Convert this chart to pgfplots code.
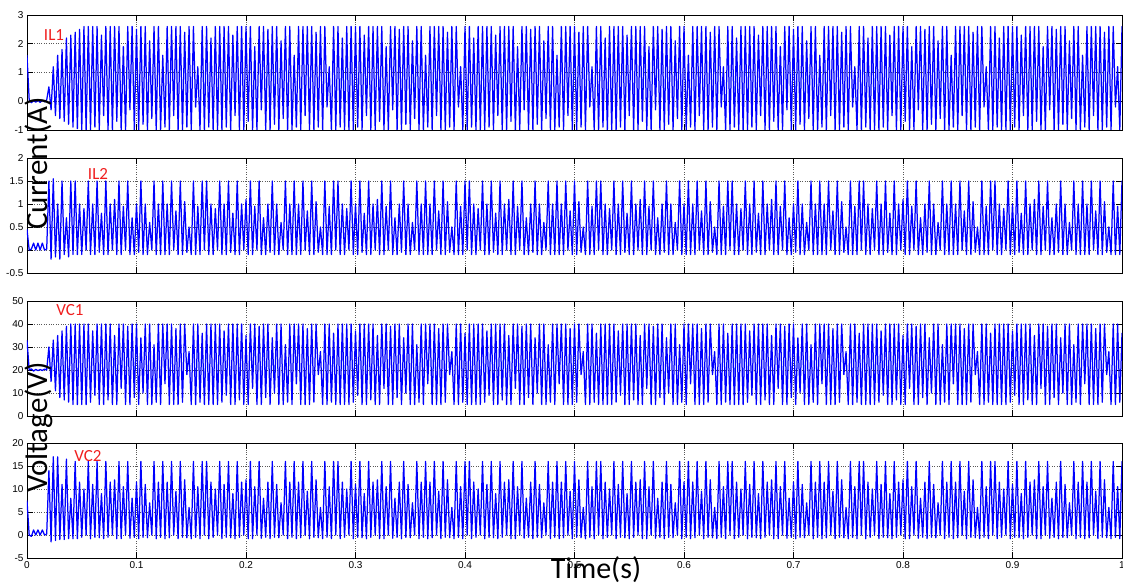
\documentclass[border=0pt]{standalone}
\usepackage{fontspec}
\setmainfont{Liberation Sans}
\newfontfamily\calibri{Carlito}
\usepackage{pgfplots}
\usepackage{pgfplotstable}
\pgfplotsset{compat=1.18}
\definecolor{mblue}{RGB}{0,0,255}
\definecolor{mred}{RGB}{240,30,30}

% IL1 samples (uniform sampling, dt = 0.002 s)
\pgfplotstableread[row sep=\\, header=false]{
1.6\\ 0.05\\ -0.05\\ 0.02\\ -0.03\\ 0.04\\ -0.04\\ 0.03\\ -0.02\\ 0.05\\
0.5\\ -0.3\\ 1.2\\ -0.5\\ 1.6\\ -0.6\\ 1.8\\ -0.7\\ 2.2\\ -0.8\\ 2.3\\ -0.9\\ 2.4\\ -0.95\\ 2.5\\ -1\\ 2.6\\ -1\\
2.6\\ -1\\ 2.6\\ -0.9\\ 2.6\\ -1\\ 2.3\\ -0.5\\ 2.6\\ -1\\ 2.6\\ -1\\ 2.6\\ -0.7\\ 2.6\\ -1\\ 1.9\\ -1\\ 2.6\\ -0.3\\
2.6\\ -1\\ 2.5\\ -1\\ 2.6\\ -0.8\\ 2.6\\ -1\\ 2.1\\ -0.6\\ 2.6\\ -1\\ 2.6\\ -1\\ 1.6\\ -0.9\\ 2.6\\ -1\\ 2.6\\ -0.5\\
2.6\\ -1\\ 2.6\\ -1\\ 2.4\\ -0.9\\ 2.6\\ -1\\ 2.6\\ -0.2\\ 1.2\\ -1\\ 2.6\\ -1\\ 2.6\\ -0.9\\ 2.2\\ -1\\ 2.6\\ -1\\
2.6\\ -1\\ 2.6\\ -0.9\\ 2.6\\ -1\\ 2.3\\ -0.5\\ 2.6\\ -1\\ 2.6\\ -1\\ 2.6\\ -0.7\\ 2.6\\ -1\\ 1.9\\ -1\\ 2.6\\ -0.3\\
2.6\\ -1\\ 2.5\\ -1\\ 2.6\\ -0.8\\ 2.6\\ -1\\ 2.1\\ -0.6\\ 2.6\\ -1\\ 2.6\\ -1\\ 1.6\\ -0.9\\ 2.6\\ -1\\ 2.6\\ -0.5\\
2.6\\ -1\\ 2.6\\ -1\\ 2.4\\ -0.9\\ 2.6\\ -1\\ 2.6\\ -0.2\\ 1.2\\ -1\\ 2.6\\ -1\\ 2.6\\ -0.9\\ 2.2\\ -1\\ 2.6\\ -1\\
2.6\\ -1\\ 2.6\\ -0.9\\ 2.6\\ -1\\ 2.3\\ -0.5\\ 2.6\\ -1\\ 2.6\\ -1\\ 2.6\\ -0.7\\ 2.6\\ -1\\ 1.9\\ -1\\ 2.6\\ -0.3\\
2.6\\ -1\\ 2.5\\ -1\\ 2.6\\ -0.8\\ 2.6\\ -1\\ 2.1\\ -0.6\\ 2.6\\ -1\\ 2.6\\ -1\\ 1.6\\ -0.9\\ 2.6\\ -1\\ 2.6\\ -0.5\\
2.6\\ -1\\ 2.6\\ -1\\ 2.4\\ -0.9\\ 2.6\\ -1\\ 2.6\\ -0.2\\ 1.2\\ -1\\ 2.6\\ -1\\ 2.6\\ -0.9\\ 2.2\\ -1\\ 2.6\\ -1\\
2.6\\ -1\\ 2.6\\ -0.9\\ 2.6\\ -1\\ 2.3\\ -0.5\\ 2.6\\ -1\\ 2.6\\ -1\\ 2.6\\ -0.7\\ 2.6\\ -1\\ 1.9\\ -1\\ 2.6\\ -0.3\\
2.6\\ -1\\ 2.5\\ -1\\ 2.6\\ -0.8\\ 2.6\\ -1\\ 2.1\\ -0.6\\ 2.6\\ -1\\ 2.6\\ -1\\ 1.6\\ -0.9\\ 2.6\\ -1\\ 2.6\\ -0.5\\
2.6\\ -1\\ 2.6\\ -1\\ 2.4\\ -0.9\\ 2.6\\ -1\\ 2.6\\ -0.2\\ 1.2\\ -1\\ 2.6\\ -1\\ 2.6\\ -0.9\\ 2.2\\ -1\\ 2.6\\ -1\\
2.6\\ -1\\ 2.6\\ -0.9\\ 2.6\\ -1\\ 2.3\\ -0.5\\ 2.6\\ -1\\ 2.6\\ -1\\ 2.6\\ -0.7\\ 2.6\\ -1\\ 1.9\\ -1\\ 2.6\\ -0.3\\
2.6\\ -1\\ 2.5\\ -1\\ 2.6\\ -0.8\\ 2.6\\ -1\\ 2.1\\ -0.6\\ 2.6\\ -1\\ 2.6\\ -1\\ 1.6\\ -0.9\\ 2.6\\ -1\\ 2.6\\ -0.5\\
2.6\\ -1\\ 2.6\\ -1\\ 2.4\\ -0.9\\ 2.6\\ -1\\ 2.6\\ -0.2\\ 1.2\\ -1\\ 2.6\\ -1\\ 2.6\\ -0.9\\ 2.2\\ -1\\ 2.6\\ -1\\
2.6\\ -1\\ 2.6\\ -0.9\\ 2.6\\ -1\\ 2.3\\ -0.5\\ 2.6\\ -1\\ 2.6\\ -1\\ 2.6\\ -0.7\\ 2.6\\ -1\\ 1.9\\ -1\\ 2.6\\ -0.3\\
2.6\\ -1\\ 2.5\\ -1\\ 2.6\\ -0.8\\ 2.6\\ -1\\ 2.1\\ -0.6\\ 2.6\\ -1\\ 2.6\\ -1\\ 1.6\\ -0.9\\ 2.6\\ -1\\ 2.6\\ -0.5\\
2.6\\ -1\\ 2.6\\ -1\\ 2.4\\ -0.9\\ 2.6\\ -1\\ 2.6\\ -0.2\\ 1.2\\ -1\\ 2.6\\ -1\\ 2.6\\ -0.9\\ 2.2\\ -1\\ 2.6\\ -1\\
2.6\\ -1\\ 2.6\\ -0.9\\ 2.6\\ -1\\ 2.3\\ -0.5\\ 2.6\\ -1\\ 2.6\\ -1\\ 2.6\\ -0.7\\ 2.6\\ -1\\ 1.9\\ -1\\ 2.6\\ -0.3\\
2.6\\ -1\\ 2.5\\ -1\\ 2.6\\ -0.8\\ 2.6\\ -1\\ 2.1\\ -0.6\\ 2.6\\ -1\\ 2.6\\ -1\\ 1.6\\ -0.9\\ 2.6\\ -1\\ 2.6\\ -0.5\\
2.6\\ -1\\ 2.6\\ -1\\ 2.4\\ -0.9\\ 2.6\\ -1\\ 2.6\\ -0.2\\ 1.2\\ -1\\ 2.6\\ -1\\ 2.6\\ -0.9\\ 2.2\\ -1\\ 2.6\\ -1\\
2.6\\ -1\\ 2.6\\ -0.9\\ 2.6\\ -1\\ 2.3\\ -0.5\\ 2.6\\ -1\\ 2.6\\ -1\\ 2.6\\ -0.7\\ 2.6\\ -1\\ 1.9\\ -1\\ 2.6\\ -0.3\\
2.6\\ -1\\ 2.5\\ -1\\ 2.6\\ -0.8\\ 2.6\\ -1\\ 2.1\\ -0.6\\ 2.6\\ -1\\ 2.6\\ -1\\ 1.6\\ -0.9\\ 2.6\\ -1\\ 2.6\\ -0.5\\
2.6\\ -1\\ 2.6\\ -1\\ 2.4\\ -0.9\\ 2.6\\ -1\\ 2.6\\ -0.2\\ 1.2\\ -1\\ 2.6\\ -1\\ 2.6\\ -0.9\\ 2.2\\ -1\\ 2.6\\ -1\\
}\ILone

% IL2 samples
\pgfplotstableread[row sep=\\, header=false]{
0.45\\ 0\\ 0.02\\ 0.15\\ 0\\ 0.15\\ 0\\ 0.15\\ 0\\ 0.02\\
1.5\\ -0.2\\ 1.55\\ -0.15\\ 1.0\\ -0.2\\ 1.5\\ -0.1\\ 0.7\\ -0.15\\ 1.5\\ -0.1\\
1.5\\ -0.1\\ 1.0\\ -0.1\\ 0.9\\ 0\\ 1.5\\ -0.1\\ 1.0\\ -0.1\\ 1.5\\ -0.05\\ 0.8\\ -0.1\\ 1.5\\ -0.1\\ 1.0\\ 0\\ 1.1\\ -0.1\\
1.5\\ -0.1\\ 0.95\\ 0\\ 1.5\\ -0.1\\ 0.7\\ -0.1\\ 1.0\\ -0.05\\ 1.5\\ -0.1\\ 1.0\\ -0.1\\ 0.6\\ 0\\ 1.5\\ -0.1\\ 1.0\\ -0.1\\
1.5\\ -0.1\\ 1.0\\ -0.1\\ 1.5\\ 0\\ 0.85\\ -0.1\\ 1.5\\ -0.1\\ 1.05\\ -0.05\\ 0.5\\ -0.1\\ 1.5\\ -0.1\\ 0.95\\ -0.1\\ 1.5\\ 0\\
1.5\\ -0.1\\ 1.0\\ -0.1\\ 0.9\\ 0\\ 1.5\\ -0.1\\ 1.0\\ -0.1\\ 1.5\\ -0.05\\ 0.8\\ -0.1\\ 1.5\\ -0.1\\ 1.0\\ 0\\ 1.1\\ -0.1\\
1.5\\ -0.1\\ 0.95\\ 0\\ 1.5\\ -0.1\\ 0.7\\ -0.1\\ 1.0\\ -0.05\\ 1.5\\ -0.1\\ 1.0\\ -0.1\\ 0.6\\ 0\\ 1.5\\ -0.1\\ 1.0\\ -0.1\\
1.5\\ -0.1\\ 1.0\\ -0.1\\ 1.5\\ 0\\ 0.85\\ -0.1\\ 1.5\\ -0.1\\ 1.05\\ -0.05\\ 0.5\\ -0.1\\ 1.5\\ -0.1\\ 0.95\\ -0.1\\ 1.5\\ 0\\
1.5\\ -0.1\\ 1.0\\ -0.1\\ 0.9\\ 0\\ 1.5\\ -0.1\\ 1.0\\ -0.1\\ 1.5\\ -0.05\\ 0.8\\ -0.1\\ 1.5\\ -0.1\\ 1.0\\ 0\\ 1.1\\ -0.1\\
1.5\\ -0.1\\ 0.95\\ 0\\ 1.5\\ -0.1\\ 0.7\\ -0.1\\ 1.0\\ -0.05\\ 1.5\\ -0.1\\ 1.0\\ -0.1\\ 0.6\\ 0\\ 1.5\\ -0.1\\ 1.0\\ -0.1\\
1.5\\ -0.1\\ 1.0\\ -0.1\\ 1.5\\ 0\\ 0.85\\ -0.1\\ 1.5\\ -0.1\\ 1.05\\ -0.05\\ 0.5\\ -0.1\\ 1.5\\ -0.1\\ 0.95\\ -0.1\\ 1.5\\ 0\\
1.5\\ -0.1\\ 1.0\\ -0.1\\ 0.9\\ 0\\ 1.5\\ -0.1\\ 1.0\\ -0.1\\ 1.5\\ -0.05\\ 0.8\\ -0.1\\ 1.5\\ -0.1\\ 1.0\\ 0\\ 1.1\\ -0.1\\
1.5\\ -0.1\\ 0.95\\ 0\\ 1.5\\ -0.1\\ 0.7\\ -0.1\\ 1.0\\ -0.05\\ 1.5\\ -0.1\\ 1.0\\ -0.1\\ 0.6\\ 0\\ 1.5\\ -0.1\\ 1.0\\ -0.1\\
1.5\\ -0.1\\ 1.0\\ -0.1\\ 1.5\\ 0\\ 0.85\\ -0.1\\ 1.5\\ -0.1\\ 1.05\\ -0.05\\ 0.5\\ -0.1\\ 1.5\\ -0.1\\ 0.95\\ -0.1\\ 1.5\\ 0\\
1.5\\ -0.1\\ 1.0\\ -0.1\\ 0.9\\ 0\\ 1.5\\ -0.1\\ 1.0\\ -0.1\\ 1.5\\ -0.05\\ 0.8\\ -0.1\\ 1.5\\ -0.1\\ 1.0\\ 0\\ 1.1\\ -0.1\\
1.5\\ -0.1\\ 0.95\\ 0\\ 1.5\\ -0.1\\ 0.7\\ -0.1\\ 1.0\\ -0.05\\ 1.5\\ -0.1\\ 1.0\\ -0.1\\ 0.6\\ 0\\ 1.5\\ -0.1\\ 1.0\\ -0.1\\
1.5\\ -0.1\\ 1.0\\ -0.1\\ 1.5\\ 0\\ 0.85\\ -0.1\\ 1.5\\ -0.1\\ 1.05\\ -0.05\\ 0.5\\ -0.1\\ 1.5\\ -0.1\\ 0.95\\ -0.1\\ 1.5\\ 0\\
1.5\\ -0.1\\ 1.0\\ -0.1\\ 0.9\\ 0\\ 1.5\\ -0.1\\ 1.0\\ -0.1\\ 1.5\\ -0.05\\ 0.8\\ -0.1\\ 1.5\\ -0.1\\ 1.0\\ 0\\ 1.1\\ -0.1\\
1.5\\ -0.1\\ 0.95\\ 0\\ 1.5\\ -0.1\\ 0.7\\ -0.1\\ 1.0\\ -0.05\\ 1.5\\ -0.1\\ 1.0\\ -0.1\\ 0.6\\ 0\\ 1.5\\ -0.1\\ 1.0\\ -0.1\\
1.5\\ -0.1\\ 1.0\\ -0.1\\ 1.5\\ 0\\ 0.85\\ -0.1\\ 1.5\\ -0.1\\ 1.05\\ -0.05\\ 0.5\\ -0.1\\ 1.5\\ -0.1\\ 0.95\\ -0.1\\ 1.5\\ 0\\
1.5\\ -0.1\\ 1.0\\ -0.1\\ 0.9\\ 0\\ 1.5\\ -0.1\\ 1.0\\ -0.1\\ 1.5\\ -0.05\\ 0.8\\ -0.1\\ 1.5\\ -0.1\\ 1.0\\ 0\\ 1.1\\ -0.1\\
1.5\\ -0.1\\ 0.95\\ 0\\ 1.5\\ -0.1\\ 0.7\\ -0.1\\ 1.0\\ -0.05\\ 1.5\\ -0.1\\ 1.0\\ -0.1\\ 0.6\\ 0\\ 1.5\\ -0.1\\ 1.0\\ -0.1\\
1.5\\ -0.1\\ 1.0\\ -0.1\\ 1.5\\ 0\\ 0.85\\ -0.1\\ 1.5\\ -0.1\\ 1.05\\ -0.05\\ 0.5\\ -0.1\\ 1.5\\ -0.1\\ 0.95\\ -0.1\\ 1.5\\ 0\\
1.5\\ -0.1\\ 1.0\\ -0.1\\ 0.9\\ 0\\ 1.5\\ -0.1\\ 1.0\\ -0.1\\ 1.5\\ -0.05\\ 0.8\\ -0.1\\ 1.5\\ -0.1\\ 1.0\\ 0\\ 1.1\\ -0.1\\
1.5\\ -0.1\\ 0.95\\ 0\\ 1.5\\ -0.1\\ 0.7\\ -0.1\\ 1.0\\ -0.05\\ 1.5\\ -0.1\\ 1.0\\ -0.1\\ 0.6\\ 0\\ 1.5\\ -0.1\\ 1.0\\ -0.1\\
1.5\\ -0.1\\ 1.0\\ -0.1\\ 1.5\\ 0\\ 0.85\\ -0.1\\ 1.5\\ -0.1\\ 1.05\\ -0.05\\ 0.5\\ -0.1\\ 1.5\\ -0.1\\ 0.95\\ -0.1\\ 1.5\\ 0\\
}\ILtwo

% VC1 samples
\pgfplotstableread[row sep=\\, header=false]{
33\\ 20\\ 20.5\\ 19.5\\ 20.3\\ 19.7\\ 20.2\\ 19.8\\ 20.4\\ 20\\
30\\ 15\\ 33\\ 11\\ 35\\ 8\\ 37\\ 7\\ 39\\ 6\\ 40\\ 5\\ 40\\ 5\\
40\\ 5\\ 40\\ 5\\ 40\\ 6\\ 37\\ 9\\ 40\\ 5\\ 40\\ 5\\ 40\\ 7\\ 40\\ 5\\ 35\\ 5\\ 40\\ 12\\
40\\ 5\\ 39\\ 5\\ 40\\ 8\\ 40\\ 5\\ 34\\ 10\\ 40\\ 5\\ 40\\ 5\\ 31\\ 6\\ 40\\ 5\\ 40\\ 14\\
40\\ 5\\ 40\\ 5\\ 38\\ 5\\ 40\\ 6\\ 40\\ 18\\ 28\\ 5\\ 40\\ 5\\ 40\\ 6\\ 36\\ 5\\ 40\\ 5\\
40\\ 5\\ 40\\ 5\\ 40\\ 6\\ 37\\ 9\\ 40\\ 5\\ 40\\ 5\\ 40\\ 7\\ 40\\ 5\\ 35\\ 5\\ 40\\ 12\\
40\\ 5\\ 39\\ 5\\ 40\\ 8\\ 40\\ 5\\ 34\\ 10\\ 40\\ 5\\ 40\\ 5\\ 31\\ 6\\ 40\\ 5\\ 40\\ 14\\
40\\ 5\\ 40\\ 5\\ 38\\ 5\\ 40\\ 6\\ 40\\ 18\\ 28\\ 5\\ 40\\ 5\\ 40\\ 6\\ 36\\ 5\\ 40\\ 5\\
40\\ 5\\ 40\\ 5\\ 40\\ 6\\ 37\\ 9\\ 40\\ 5\\ 40\\ 5\\ 40\\ 7\\ 40\\ 5\\ 35\\ 5\\ 40\\ 12\\
40\\ 5\\ 39\\ 5\\ 40\\ 8\\ 40\\ 5\\ 34\\ 10\\ 40\\ 5\\ 40\\ 5\\ 31\\ 6\\ 40\\ 5\\ 40\\ 14\\
40\\ 5\\ 40\\ 5\\ 38\\ 5\\ 40\\ 6\\ 40\\ 18\\ 28\\ 5\\ 40\\ 5\\ 40\\ 6\\ 36\\ 5\\ 40\\ 5\\
40\\ 5\\ 40\\ 5\\ 40\\ 6\\ 37\\ 9\\ 40\\ 5\\ 40\\ 5\\ 40\\ 7\\ 40\\ 5\\ 35\\ 5\\ 40\\ 12\\
40\\ 5\\ 39\\ 5\\ 40\\ 8\\ 40\\ 5\\ 34\\ 10\\ 40\\ 5\\ 40\\ 5\\ 31\\ 6\\ 40\\ 5\\ 40\\ 14\\
40\\ 5\\ 40\\ 5\\ 38\\ 5\\ 40\\ 6\\ 40\\ 18\\ 28\\ 5\\ 40\\ 5\\ 40\\ 6\\ 36\\ 5\\ 40\\ 5\\
40\\ 5\\ 40\\ 5\\ 40\\ 6\\ 37\\ 9\\ 40\\ 5\\ 40\\ 5\\ 40\\ 7\\ 40\\ 5\\ 35\\ 5\\ 40\\ 12\\
40\\ 5\\ 39\\ 5\\ 40\\ 8\\ 40\\ 5\\ 34\\ 10\\ 40\\ 5\\ 40\\ 5\\ 31\\ 6\\ 40\\ 5\\ 40\\ 14\\
40\\ 5\\ 40\\ 5\\ 38\\ 5\\ 40\\ 6\\ 40\\ 18\\ 28\\ 5\\ 40\\ 5\\ 40\\ 6\\ 36\\ 5\\ 40\\ 5\\
40\\ 5\\ 40\\ 5\\ 40\\ 6\\ 37\\ 9\\ 40\\ 5\\ 40\\ 5\\ 40\\ 7\\ 40\\ 5\\ 35\\ 5\\ 40\\ 12\\
40\\ 5\\ 39\\ 5\\ 40\\ 8\\ 40\\ 5\\ 34\\ 10\\ 40\\ 5\\ 40\\ 5\\ 31\\ 6\\ 40\\ 5\\ 40\\ 14\\
40\\ 5\\ 40\\ 5\\ 38\\ 5\\ 40\\ 6\\ 40\\ 18\\ 28\\ 5\\ 40\\ 5\\ 40\\ 6\\ 36\\ 5\\ 40\\ 5\\
40\\ 5\\ 40\\ 5\\ 40\\ 6\\ 37\\ 9\\ 40\\ 5\\ 40\\ 5\\ 40\\ 7\\ 40\\ 5\\ 35\\ 5\\ 40\\ 12\\
40\\ 5\\ 39\\ 5\\ 40\\ 8\\ 40\\ 5\\ 34\\ 10\\ 40\\ 5\\ 40\\ 5\\ 31\\ 6\\ 40\\ 5\\ 40\\ 14\\
40\\ 5\\ 40\\ 5\\ 38\\ 5\\ 40\\ 6\\ 40\\ 18\\ 28\\ 5\\ 40\\ 5\\ 40\\ 6\\ 36\\ 5\\ 40\\ 5\\
40\\ 5\\ 40\\ 5\\ 40\\ 6\\ 37\\ 9\\ 40\\ 5\\ 40\\ 5\\ 40\\ 7\\ 40\\ 5\\ 35\\ 5\\ 40\\ 12\\
40\\ 5\\ 39\\ 5\\ 40\\ 8\\ 40\\ 5\\ 34\\ 10\\ 40\\ 5\\ 40\\ 5\\ 31\\ 6\\ 40\\ 5\\ 40\\ 14\\
40\\ 5\\ 40\\ 5\\ 38\\ 5\\ 40\\ 6\\ 40\\ 18\\ 28\\ 5\\ 40\\ 5\\ 40\\ 6\\ 36\\ 5\\ 40\\ 5\\
}\VCone

% VC2 samples
\pgfplotstableread[row sep=\\, header=false]{
7.5\\ 0\\ -0.3\\ 1.1\\ 0\\ 1.1\\ 0\\ 1.1\\ 0\\ 0.2\\
14\\ -1.5\\ 17\\ -1.2\\ 17\\ -1\\ 11\\ -1\\ 16.5\\ -0.8\\ 8\\ -0.8\\
16\\ -0.8\\ 11.5\\ -0.5\\ 10\\ 0\\ 16\\ -0.8\\ 11\\ -0.5\\ 16\\ -0.6\\ 9\\ -0.8\\ 16\\ -0.5\\ 11.5\\ 0\\ 12\\ -0.8\\
16\\ -0.8\\ 10.5\\ 0\\ 16\\ -0.7\\ 8\\ -0.5\\ 11.5\\ -0.8\\ 16\\ -0.5\\ 11\\ -0.6\\ 7\\ 0\\ 16\\ -0.8\\ 11.5\\ -0.5\\
16\\ -0.8\\ 11.5\\ -0.6\\ 16\\ 0\\ 9.5\\ -0.8\\ 16\\ -0.5\\ 12\\ -0.6\\ 6\\ -0.8\\ 16\\ -0.5\\ 10.5\\ -0.8\\ 16\\ 0\\
16\\ -0.8\\ 11.5\\ -0.5\\ 10\\ 0\\ 16\\ -0.8\\ 11\\ -0.5\\ 16\\ -0.6\\ 9\\ -0.8\\ 16\\ -0.5\\ 11.5\\ 0\\ 12\\ -0.8\\
16\\ -0.8\\ 10.5\\ 0\\ 16\\ -0.7\\ 8\\ -0.5\\ 11.5\\ -0.8\\ 16\\ -0.5\\ 11\\ -0.6\\ 7\\ 0\\ 16\\ -0.8\\ 11.5\\ -0.5\\
16\\ -0.8\\ 11.5\\ -0.6\\ 16\\ 0\\ 9.5\\ -0.8\\ 16\\ -0.5\\ 12\\ -0.6\\ 6\\ -0.8\\ 16\\ -0.5\\ 10.5\\ -0.8\\ 16\\ 0\\
16\\ -0.8\\ 11.5\\ -0.5\\ 10\\ 0\\ 16\\ -0.8\\ 11\\ -0.5\\ 16\\ -0.6\\ 9\\ -0.8\\ 16\\ -0.5\\ 11.5\\ 0\\ 12\\ -0.8\\
16\\ -0.8\\ 10.5\\ 0\\ 16\\ -0.7\\ 8\\ -0.5\\ 11.5\\ -0.8\\ 16\\ -0.5\\ 11\\ -0.6\\ 7\\ 0\\ 16\\ -0.8\\ 11.5\\ -0.5\\
16\\ -0.8\\ 11.5\\ -0.6\\ 16\\ 0\\ 9.5\\ -0.8\\ 16\\ -0.5\\ 12\\ -0.6\\ 6\\ -0.8\\ 16\\ -0.5\\ 10.5\\ -0.8\\ 16\\ 0\\
16\\ -0.8\\ 11.5\\ -0.5\\ 10\\ 0\\ 16\\ -0.8\\ 11\\ -0.5\\ 16\\ -0.6\\ 9\\ -0.8\\ 16\\ -0.5\\ 11.5\\ 0\\ 12\\ -0.8\\
16\\ -0.8\\ 10.5\\ 0\\ 16\\ -0.7\\ 8\\ -0.5\\ 11.5\\ -0.8\\ 16\\ -0.5\\ 11\\ -0.6\\ 7\\ 0\\ 16\\ -0.8\\ 11.5\\ -0.5\\
16\\ -0.8\\ 11.5\\ -0.6\\ 16\\ 0\\ 9.5\\ -0.8\\ 16\\ -0.5\\ 12\\ -0.6\\ 6\\ -0.8\\ 16\\ -0.5\\ 10.5\\ -0.8\\ 16\\ 0\\
16\\ -0.8\\ 11.5\\ -0.5\\ 10\\ 0\\ 16\\ -0.8\\ 11\\ -0.5\\ 16\\ -0.6\\ 9\\ -0.8\\ 16\\ -0.5\\ 11.5\\ 0\\ 12\\ -0.8\\
16\\ -0.8\\ 10.5\\ 0\\ 16\\ -0.7\\ 8\\ -0.5\\ 11.5\\ -0.8\\ 16\\ -0.5\\ 11\\ -0.6\\ 7\\ 0\\ 16\\ -0.8\\ 11.5\\ -0.5\\
16\\ -0.8\\ 11.5\\ -0.6\\ 16\\ 0\\ 9.5\\ -0.8\\ 16\\ -0.5\\ 12\\ -0.6\\ 6\\ -0.8\\ 16\\ -0.5\\ 10.5\\ -0.8\\ 16\\ 0\\
16\\ -0.8\\ 11.5\\ -0.5\\ 10\\ 0\\ 16\\ -0.8\\ 11\\ -0.5\\ 16\\ -0.6\\ 9\\ -0.8\\ 16\\ -0.5\\ 11.5\\ 0\\ 12\\ -0.8\\
16\\ -0.8\\ 10.5\\ 0\\ 16\\ -0.7\\ 8\\ -0.5\\ 11.5\\ -0.8\\ 16\\ -0.5\\ 11\\ -0.6\\ 7\\ 0\\ 16\\ -0.8\\ 11.5\\ -0.5\\
16\\ -0.8\\ 11.5\\ -0.6\\ 16\\ 0\\ 9.5\\ -0.8\\ 16\\ -0.5\\ 12\\ -0.6\\ 6\\ -0.8\\ 16\\ -0.5\\ 10.5\\ -0.8\\ 16\\ 0\\
16\\ -0.8\\ 11.5\\ -0.5\\ 10\\ 0\\ 16\\ -0.8\\ 11\\ -0.5\\ 16\\ -0.6\\ 9\\ -0.8\\ 16\\ -0.5\\ 11.5\\ 0\\ 12\\ -0.8\\
16\\ -0.8\\ 10.5\\ 0\\ 16\\ -0.7\\ 8\\ -0.5\\ 11.5\\ -0.8\\ 16\\ -0.5\\ 11\\ -0.6\\ 7\\ 0\\ 16\\ -0.8\\ 11.5\\ -0.5\\
16\\ -0.8\\ 11.5\\ -0.6\\ 16\\ 0\\ 9.5\\ -0.8\\ 16\\ -0.5\\ 12\\ -0.6\\ 6\\ -0.8\\ 16\\ -0.5\\ 10.5\\ -0.8\\ 16\\ 0\\
16\\ -0.8\\ 11.5\\ -0.5\\ 10\\ 0\\ 16\\ -0.8\\ 11\\ -0.5\\ 16\\ -0.6\\ 9\\ -0.8\\ 16\\ -0.5\\ 11.5\\ 0\\ 12\\ -0.8\\
16\\ -0.8\\ 10.5\\ 0\\ 16\\ -0.7\\ 8\\ -0.5\\ 11.5\\ -0.8\\ 16\\ -0.5\\ 11\\ -0.6\\ 7\\ 0\\ 16\\ -0.8\\ 11.5\\ -0.5\\
16\\ -0.8\\ 11.5\\ -0.6\\ 16\\ 0\\ 9.5\\ -0.8\\ 16\\ -0.5\\ 12\\ -0.6\\ 6\\ -0.8\\ 16\\ -0.5\\ 10.5\\ -0.8\\ 16\\ 0\\
}\VCtwo

\pgfplotsset{
  mstyle/.style={
    scale only axis, width=1095pt, height=115pt, anchor=south west,
    xmin=0, xmax=1, xtick={0,0.1,0.2,0.3,0.4,0.5,0.6,0.7,0.8,0.9,1},
    tick align=inside, tick pos=both, major tick length=6pt,
    grid=major, grid style={dotted, black!65, line width=0.6pt},
    axis line style={black, line width=0.7pt},
    every tick/.style={black, line width=0.6pt},
    tick label style={font=\fontsize{10}{12}\selectfont},
    /pgf/number format/assume math mode=true,
    /pgf/number format/fixed,
  },
  sig/.style={mblue, line width=1.25pt, line join=round, no markers},
}

\begin{document}
\begin{tikzpicture}
\path[use as bounding box] (0pt,0pt) rectangle (1123pt,587pt);

\begin{axis}[mstyle, at={(27pt,457pt)}, ymin=-1, ymax=3, ytick={-1,0,1,2,3}, xticklabels={}]
\addplot[sig] table[x expr=\coordindex*0.002, y index=0]{\ILone};
\end{axis}

\begin{axis}[mstyle, at={(27pt,314pt)}, ymin=-0.5, ymax=2, ytick={-0.5,0,0.5,1,1.5,2}, xticklabels={}]
\addplot[sig] table[x expr=\coordindex*0.002, y index=0]{\ILtwo};
\end{axis}

\begin{axis}[mstyle, at={(27pt,171pt)}, ymin=0, ymax=50, ytick={0,10,20,30,40,50}, xticklabels={}]
\addplot[sig] table[x expr=\coordindex*0.002, y index=0]{\VCone};
\end{axis}

\begin{axis}[mstyle, at={(27pt,29pt)}, ymin=-5, ymax=20, ytick={-5,0,5,10,15,20}]
\addplot[sig] table[x expr=\coordindex*0.002, y index=0]{\VCtwo};
\end{axis}

\node[font=\calibri\fontsize{31}{31}\selectfont, rotate=90, anchor=base] at (47pt,423.5pt) {Current(A)};
\node[font=\calibri\fontsize{31}{31}\selectfont, rotate=90, anchor=base] at (47pt,159.5pt) {Voltage(V)};
\node[font=\calibri\fontsize{30}{30}\selectfont, anchor=base] at (596pt,9pt) {Time(s)};

\node[font=\calibri\fontsize{17}{17}\selectfont, text=mred] at (54pt,552pt) {IL1};
\node[font=\calibri\fontsize{17}{17}\selectfont, text=mred] at (98pt,413pt) {IL2};
\node[font=\calibri\fontsize{17}{17}\selectfont, text=mred] at (70pt,277pt) {VC1};
\node[font=\calibri\fontsize{17}{17}\selectfont, text=mred] at (88pt,131pt) {VC2};
\end{tikzpicture}
\end{document}
